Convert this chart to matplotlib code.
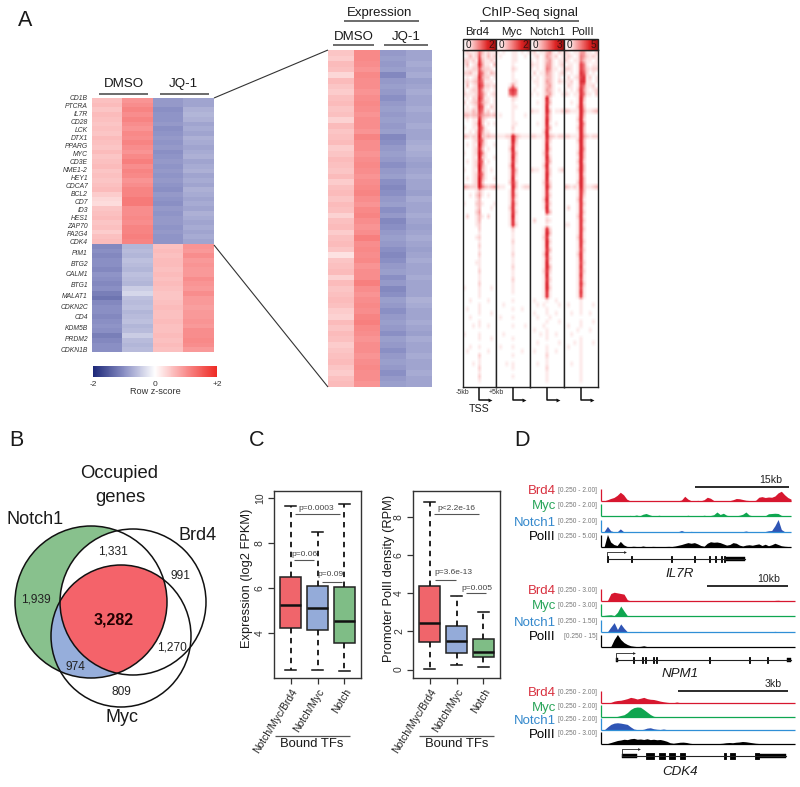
import numpy as np
import matplotlib
matplotlib.use("Agg")
import matplotlib.pyplot as plt
from matplotlib.colors import LinearSegmentedColormap
from matplotlib.patches import Ellipse, PathPatch
from matplotlib.path import Path
from matplotlib.cm import ScalarMappable
from matplotlib.colors import Normalize

plt.rcParams['font.family'] = ['Liberation Sans', 'DejaVu Sans']

W, H = 800, 787

# ---------- panel A data (z-score x20, estimated) ----------
genes_up = ['CD1B','PTCRA','IL7R','CD28','LCK','DTX1','PPARG','MYC','CD3E','NME1-2','HEY1','CDCA7','BCL2','CD7','ID3','HES1','ZAP70','PA2G4','CDK4']
genes_down = ['PIM1','BTG2','CALM1','BTG1','MALAT1','CDKN2C','CD4','KDM5B','PRDM2','CDKN1B']

main_c1 = [11,12,10,12,11,10,11,10,12,11,10,12,10,11,12,10,11,10,11,12,9,7,6,10,11,12,10,11,9,11,12,
           -21,-20,-21,-20,-20,-21,-19,-20,-21,-20,-23,-25,-21,-20,-20,-21,-20,-19,-20,-23,-21,-20,-20]
main_c2 = [19,20,22,20,22,20,19,21,20,22,20,19,21,23,20,22,21,19,20,22,22,24,24,20,20,21,20,22,22,23,22,
           -13,-12,-13,-11,-12,-13,-11,-12,-13,-9,-7,-11,-12,-11,-13,-12,-11,-13,-12,-9,-12,-13,-12]
main_c3 = [-18,-18,-20,-19,-19,-18,-20,-19,-18,-19,-18,-20,-19,-18,-19,-18,-19,-18,-19,-20,-18,-19,-20,-18,-19,-18,-18,-19,-18,-19,-19,
           11,12,11,12,12,11,12,11,12,11,10,10,11,12,11,11,12,11,11,12,11,12,11]
main_c4 = [-16,-16,-14,-13,-14,-16,-15,-16,-14,-15,-16,-15,-14,-16,-15,-14,-16,-15,-16,-14,-15,-16,-15,-16,-14,-15,-16,-15,-16,-15,-16,
           19,18,20,18,19,18,18,20,19,18,20,18,18,17,18,18,19,18,20,20,21,20,18]

zoom_c1 = [10,9,12,11,7,12,10,9,11,12,10,11,8,12,10,11,12,9,10,12,11,10,12,9,11,12,10,12,11,8,
           11,12,9,11,12,10,5,10,11,12,8,12,10,11,12,11,9,8,12,10,12,11,9,10,11,12,10,9,11,12]
zoom_c2 = [21,21,20,19,21,20,20,19,20,21,20,19,20,20,19,22,20,20,19,20,21,20,19,20,21,22,20,19,21,22,
           20,19,20,23,20,21,20,21,19,20,20,23,20,19,20,21,20,22,23,21,20,19,20,20,19,20,21,20,20,19]
zoom_c3 = [-18,-17,-18,-17,-21,-18,-17,-18,-20,-18,-17,-18,-17,-18,-17,-21,-20,-18,-17,-18,-20,-18,-17,-20,-21,-20,-18,-17,-20,-18,
           -21,-20,-18,-17,-18,-20,-21,-20,-18,-17,-20,-18,-21,-20,-17,-18,-20,-18,-17,-18,-20,-17,-18,-20,-18,-17,-18,-20,-18,-17]
zoom_c4 = [-16,-16,-15,-16,-15,-17,-16,-15,-16,-16,-15,-16,-16,-15,-16,-16,-15,-14,-15,-16,-17,-16,-15,-16,-16,-17,-15,-16,-16,-15,
           -16,-17,-16,-15,-16,-17,-16,-15,-16,-16,-15,-16,-16,-16,-14,-15,-16,-16,-15,-16,-17,-15,-16,-16,-15,-16,-16,-15,-16,-16]

heat_cmap = LinearSegmentedColormap.from_list('z', [(0,'#1c2778'),(0.25,'#8a8fc4'),(0.5,'#ffffff'),(0.75,'#f98f8f'),(1,'#ee2a24')])
chip_cmap = LinearSegmentedColormap.from_list('c', ['#ffffff','#f9bcbc','#ec5a60','#d41c28'])
bar_cmap = LinearSegmentedColormap.from_list('b', ['#ffffff','#fbd0d0','#f27a7a','#dd2424','#9a1010'])

chip_titles = ['Brd4','Myc','Notch1','PolII']
chip_max = [2,2,3,5]

chip_brd4 = [
"12112531211","01312621312","22121731121","13012841103","01122632210","22311752132","01012842201","12123751110",
"03012862212","10122741101","21112752012","01022851101","20123742101","01012861021","11132751201","33233643323",
"01011831000","00012930101","10011851000","00102841100","32122932322","00012851000","01011941001","00012830100",
"10012951000","00011931001","01012850100","00012941000","10011931010","00012851000","01012941001","00012930000",
"43222953234","00001310000","00102410100","00001300000","10002310001","00001300010","00002400000","02001310200",
"00001300000","00001200000","00000200000","00000100000","00001200000","00000100000","00000200000","00000100000",
"00000200000","00000100000","00001100000","00000100000","00000200000","00000100000","00000100000","00000200000",
"10000100010","00000100000","00000100000","00100000100","00000100000","01000100000","00000100010","00100000000",
"00000100000","00010100100","00000000000","10000100000","00000100010","00000000000","00100100000","01000000100",
"00000200000","00000100000","00010100000","00000200000","00000100000","00000200000","00000100000","00000000000"]
chip_myc = [
"10100110101","01000110010","00000110000","00000100000","00000210000","00000100000","00000100000","00000110000",
"00001510000","00006860000","00005750000","00000210000","00000100000","00000110000","00000100000","01000100010",
"00000100000","00000110000","00000200000","00000100000","11122942111","00001930000","00001820000","00002910000",
"00001830000","00001920000","00001820000","00002910000","00001830000","00001820000","00001910000","00002830000",
"21100930122","00001810000","00001820000","00001710000","00001820000","00002810000","00001820000","00001910000",
"00001810000","00001820000","00000200000","00000100000","00000100000","00000200000","00000100000","00000100000",
"00000200000","00000100000","00000100000","00000200000","00000100000","00000100000","00000200000","00000100000",
"00000100000","00000100000","00000000000","00000100000","00100000000","00000100100","00000000000","01000100000",
"00000000000","00000100010","00000000000","00100000000","00000100000","00000000000","01000100000","00000000100",
"00000100000","00000000000","00010100000","00000100000","00000000000","00000100000","00000000000","00000000000"]
chip_notch = [
"12011341021","01201431201","10101341011","21101441012","10101541101","02011431012","10101331010","01101431021",
"00101341000","01001431010","10101341001","00001920000","00101830000","00001910000","21101930112","00001820000",
"00001920000","00101910100","00001830000","00002910000","22111932122","00001820000","00001910000","00001920000",
"00002810000","00001920000","00001830000","00002910000","21101820012","00001920000","00001910000","00002820000",
"00001930000","00001810000","00001820000","00002910000","00001820000","00001910000","00000830000","00000100000",
"02000210000","00000100000","00001820000","00001930000","00002810000","00001920000","00001910000","00001830000",
"00002910000","00001820000","00001910000","00001930000","00002820000","00001910000","00001820000","00001910000",
"00001920000","00001810000","00001810000","01000100100","00101000010","00000100000","01000100100","00100010000",
"00000100010","00001000000","01000100000","00010100100","00000100000","00100000010","00000100000","01000100100",
"00000200000","00000100000","00100100000","00000200000","00000100000","00000100000","00000100000","00000000000"]
chip_pol = [
"21011441102","12101542121","21011531101","01101751011","22101752122","10101862010","02012781201","11201881101",
"02101751120","10102841012","21011851102","00001930000","00101920000","00002930000","32111941123","00001930000",
"00002920000","00001940000","00002930000","00001930000","22111942122","00002930000","00001930000","00001940000",
"00002930000","00001930000","00002920000","00001930000","00002930000","00001920000","00001930000","00002930000",
"32121931123","00001830000","00001820000","00002810000","00001820000","02001810000","00001820000","00002810000",
"00001820000","11001810000","00001820000","00001810000","00002810000","00001820000","00001810000","00001720000",
"00002810000","00001810000","00001720000","00001810000","00001720000","00001810000","00001710000","00001820000",
"00001710000","00001810000","00001710000","00000100000","01000100010","00000100000","00100100100","00000000000",
"00000100010","01000100000","00001000100","00100000000","00000100000","00010100010","01000100000","00000100000",
"00000100000","00000100000","00100100000","00000100000","00000100000","00000100000","00000100000","00000000000"]
chip_all = [chip_brd4, chip_myc, chip_notch, chip_pol]

# ---------- panel B data ----------
venn_labels = ['1,331','991','1,939','3,282','1,270','974','809']

# ---------- panel C data: q1, median, q3, whisker low, whisker high ----------
box_names = ['Notch/Myc/Brd4','Notch/Myc','Notch']
box_colors = ['#f0656b','#94abd9','#7fbd86']
expr_stats = [(4.24,5.27,6.52,2.34,9.68),(4.16,5.11,6.10,2.37,8.50),(3.56,4.56,6.04,2.31,9.76)]
pol_stats = [(1.45,2.46,4.38,0.02,8.75),(0.86,1.50,2.29,0.24,3.86),(0.65,0.93,1.62,0.14,2.99)]

# ---------- panel D data (track signal, fraction of track height) ----------
track_names = ['Brd4','Myc','Notch1','PolII']
track_text = ['#d8303f','#2aa55a','#3388cc','#000000']
track_fill = ['#d7172f','#0fa650','#2f55b5','#000000']
track_base = ['#d7172f','#0fa650','#2f8fd6','#000000']

il7r_tracks = [
 [0,.02,.1,.2,.28,.45,.7,.5,.15,.02,.01,.03,.01,0,.01,.02,.01,0,.01,.01,.02,0,.01,.01,.02,.08,.38,.15,.02,.01,.05,.02,.1,.3,.22,.04,.02,.01,.02,.04,.03,.1,.2,.18,.12,.06,.04,.03,.05,.3,.35,.28,.32,.3,.4,.65,.78,.5,.28,.15],
 [0,0,.01,0,.02,.01,.02,.01,0,.05,.02,.08,.01,.14,.2,.1,.02,.01,.06,.01,.02,.01,.01,0,.04,.02,.01,.06,.01,.02,.04,.01,.06,.02,.04,.1,.32,.12,.22,.06,.02,.01,.02,.06,.14,.32,.08,.02,.01,.02,.04,.02,.18,.2,.22,.2,.05,.02,.01,.01],
 [0,.05,.45,.1,.02,.01,.25,.03,.01,0,0,.01,0,.01,0,.01,0,0,.01,0,.01,0,.01,0,.03,.12,.02,.01,.05,.02,.02,.01,.04,.01,.02,.01,.03,.01,.02,.01,.02,.03,.01,.02,.03,.08,.02,.01,.02,.02,.01,.04,.1,.12,.5,1.0,.2,.03,.02,.01],
 [0,.05,1.0,.4,.2,.12,.45,.18,.05,.03,.06,.04,.02,.08,.03,.02,.05,.04,.02,.03,.04,.05,.04,.08,.14,.2,.28,.35,.3,.35,.25,.12,.06,.3,.42,.38,.4,.35,.25,.15,.2,.35,.3,.15,.08,.15,.18,.14,.2,.25,.12,.22,.1,.18,.3,.2,.1,.06,.04,.02]]
npm1_tracks = [
 [0,.01,.05,.6,.7,.65,.6,.55,.1,.01,0,.01,0,.01,.02,0,.01,0,0,.02,.01,.01,0,0,.03,.02,0,.01,0,.01,.02,.01,0,0,.01,0,0,.01,0,0,.01,0,.01,0,0,.01,0,0,.01,0,.01,.01,0,.05,.06,.01,0,.01,0,0],
 [0,.05,.08,.1,.03,.3,.8,.4,.03,.01,0,0,.01,0,0,0,0,.01,0,0,0,0,.01,0,0,0,0,0,0,.01,0,0,0,0,0,.01,0,0,0,0,0,0,0,0,0,0,0,0,0,0,0,.01,0,0,0,0,0,0,0,0],
 [0,0,.03,.4,.75,.2,.65,.3,.02,0,.01,0,.05,.01,0,0,0,.01,0,0,0,0,0,0,.01,0,0,0,0,0,0,.01,0,0,0,0,0,0,.01,0,0,0,0,0,0,0,0,.01,0,0,0,0,.03,.05,.01,0,0,0,0,0],
 [0,0,.02,.05,.6,1.0,.6,.35,.2,.1,.06,.03,.05,.1,.03,.02,.02,.01,.01,.02,.01,.01,.01,0,.01,.01,0,.01,.01,0,.01,0,.01,0,.01,.01,0,0,.01,0,.01,0,0,.01,0,.01,0,0,0,.01,0,.01,0,.01,0,0,.01,0,.01,0]]
cdk4_tracks = [
 [0,.01,.02,.05,.15,.2,.22,.28,.35,.45,.4,.32,.38,.45,.35,.3,.28,.22,.15,.1,.06,.03,.02,.08,.03,.01,.01,0,.01,0,.01,0,.01,0,0,.01,0,0,.01,0,0,.01,0,0,.01,0,0,.01,0,0,.01,0,0,.01,0,0,.01,0,0,.01],
 [0,0,.01,0,.01,.05,.12,.18,.35,.6,.75,.8,.78,.6,.4,.2,.06,.02,.01,0,.01,0,0,.01,0,0,0,.01,0,0,0,.01,0,0,0,0,.01,0,0,0,0,0,.01,0,0,0,0,0,0,.01,0,0,0,0,0,0,.01,0,0,0],
 [0,.02,.25,.45,.55,.58,.55,.5,.45,.25,.08,.03,.02,.06,.15,.18,.1,.06,.04,.08,.03,.02,.01,.01,.02,.01,.01,.01,0,.01,0,0,.01,0,0,.01,0,0,.01,0,0,.01,0,0,.01,0,0,.01,0,0,.01,0,0,.01,0,0,.01,0,0,0],
 [0,.02,.04,.12,.2,.28,.32,.38,.35,.42,.45,.38,.4,.36,.42,.35,.38,.34,.36,.3,.22,.1,.06,.1,.14,.15,.12,.06,.03,.02,.02,.03,.02,.02,.03,.02,.04,.06,.1,.12,.1,.14,.16,.2,.18,.14,.1,.06,.04,.03,.02,.04,.03,.02,.03,.02,.01,.02,.01,.01]]

ranges = [['[0.250 - 2.00]','[0.250 - 2.00]','[0.250 - 2.00]','[0.250 - 5.00]'],
          ['[0.250 - 3.00]','[0.250 - 3.00]','[0.250 - 1.50]','[0.250 - 15]'],
          ['[0.250 - 2.00]','[0.250 - 2.00]','[0.250 - 2.00]','[0.250 - 3.00]']]

# gene models, % of the track width
il7r_span = (3, 76);  il7r_exons = [(3,3.6),(15.6,16.1),(36.7,37.2),(48.8,49.3),(56.8,57.3),(59.8,60.3),(63,63.5),(64.8,65.3)]; il7r_thick = [(66,76)]
npm1_span = (7.8, 97.8); npm1_exons = [(16.5,17),(21.2,21.7),(22.9,23.4),(26.8,27.3),(28.6,29.1),(55.7,56.2),(76.2,76.7),(85.5,86)]; npm1_thick = [(7.8,8.8),(96,97.8)]
cdk4_span = (10.7, 95.2); cdk4_exons = [(23,27.4),(30,32.8),(35,38.3),(40.7,43.1),(63.4,64.5),(66.7,69.3),(79.3,81.4)]; cdk4_thick = [(10.7,18.8),(81.4,95.2)]

# ---------- helpers ----------
fig = plt.figure(figsize=(W/100, H/100), dpi=100, facecolor='white')

def px_axes(x0, y0, x1, y1, **kw):
    return fig.add_axes([x0/W, 1-y1/H, (x1-x0)/W, (y1-y0)/H], **kw)

ov = px_axes(0, 0, W, H)
ov.set_xlim(0, W); ov.set_ylim(H, 0); ov.axis('off'); ov.patch.set_alpha(0); ov.set_zorder(10)

def T(x, y, s, size, ha='center', va='center', **kw):
    kw.setdefault('color', '#1a1a1a')
    ov.text(x, y, s, fontsize=size, ha=ha, va=va, **kw)

def L(xs, ys, color='#444444', lw=1.0, **kw):
    ov.plot(xs, ys, color=color, lw=lw, solid_capstyle='butt', **kw)

for s, x, y in [('A', 25, 20), ('B', 16, 440), ('C', 257, 440), ('D', 522, 440)]:
    T(x, y, s, 15.5)

# ---------- panel A: heatmaps ----------
main = np.array([main_c1, main_c2, main_c3, main_c4]).T / 20
axm = px_axes(92, 98, 214, 352)
axm.imshow(main, cmap=heat_cmap, vmin=-2, vmax=2, aspect='auto', interpolation='nearest')
axm.axis('off')
zm = np.array([zoom_c1, zoom_c2, zoom_c3, zoom_c4]).T / 20
axz = px_axes(328, 50, 432, 387)
axz.imshow(zm, cmap=heat_cmap, vmin=-2, vmax=2, aspect='auto', interpolation='nearest')
axz.axis('off')

up_y = np.linspace(98.5, 243, len(genes_up))
for g, y in zip(genes_up, up_y):
    T(88, y, g, 4.9, ha='right', style='italic', color='#333333')
dn_y = np.linspace(253.5, 350, len(genes_down))
for g, y in zip(genes_down, dn_y):
    T(88, y, g, 4.9, ha='right', style='italic', color='#333333')

T(124, 84, 'DMSO', 9.6); L([99, 148], [94, 94], lw=1.1)
T(183, 84, 'JQ-1', 9.6); L([160, 209], [94, 94], lw=1.1)
L([214, 328], [98, 50], color='#333333', lw=0.8)
L([214, 328], [245, 387], color='#333333', lw=0.8)

cax = px_axes(93, 366, 217, 377)
cb = fig.colorbar(ScalarMappable(Normalize(-2, 2), heat_cmap), cax=cax, orientation='horizontal')
cb.outline.set_visible(False); cb.set_ticks([])
T(93, 384, '-2', 6, color='#333333'); T(155, 384, '0', 6, color='#333333'); T(217, 384, '+2', 6, color='#333333')
T(155, 391, 'Row z-score', 6.6, color='#333333')

T(380, 13, 'Expression', 9.5); L([344, 419], [21, 21], lw=1.1)
T(354, 37, 'DMSO', 9.5); L([333, 374], [45, 45], lw=1.1)
T(406, 37, 'JQ-1', 9.5); L([384, 428], [45, 45], lw=1.1)
T(530, 13, 'ChIP-Seq signal', 9.5); L([480, 579], [21, 21], lw=1.1)

# ---------- panel A: ChIP ----------
edges = [463, 496, 530, 564, 598]
title_x = [477, 512, 547, 582]
for i, rows in enumerate(chip_all):
    mat = np.array([[int(c) for c in r] for r in rows]) / 9
    a = px_axes(edges[i], 50, edges[i+1], 387)
    a.imshow(mat, cmap=chip_cmap, vmin=0, vmax=1, aspect='auto', interpolation='bilinear')
    a.set_xticks([]); a.set_yticks([])
    for sp in a.spines.values():
        sp.set_linewidth(1.0); sp.set_color('#222222')
    c = px_axes(edges[i], 39, edges[i+1], 50)
    cbi = fig.colorbar(ScalarMappable(Normalize(0, chip_max[i]), bar_cmap), cax=c, orientation='horizontal')
    cbi.set_ticks([]); cbi.outline.set_linewidth(1.0); cbi.outline.set_edgecolor('#222222')
    T(edges[i]+5, 45, '0', 7.2, color='#222222')
    T(edges[i+1]-5, 45, str(chip_max[i]), 7.2, color='#401010')
    T(title_x[i], 32, chip_titles[i], 8.2)
    cx = (edges[i]+edges[i+1])/2 - 0.5
    L([cx, cx, cx+10], [387, 400, 400], color='#111111', lw=1.1)
    ov.plot([cx+11], [400], marker='>', ms=2.8, color='#111111', mew=0)
T(462, 392, '-5kb', 5, color='#333333'); T(496, 392, '+5kb', 5, color='#333333')
T(479, 409, 'TSS', 7.6)

# ---------- panel B: Venn ----------
nc, nw, nh = (91, 602), 152, 152
bc, bw, bh = (133, 602), 146, 146
mc, mw, mh = (121, 636), 140, 142
GREEN, BLUE, RED = '#88c18d', '#96aedb', '#f4636a'

def shape(c, w, h, fc='none', ec='none', lw=0, z=1):
    p = Ellipse(c, w, h, facecolor=fc, edgecolor=ec, lw=lw, zorder=z)
    ov.add_patch(p)
    return p

notch_clip = Ellipse(nc, nw, nh, transform=ov.transData)
brd_clip = Ellipse(bc, bw, bh, transform=ov.transData)
shape(nc, nw, nh, fc=GREEN, z=1)
shape(mc, mw, mh, fc=BLUE, z=1.1).set_clip_path(notch_clip)
shape(bc, bw, bh, fc='white', z=1.2).set_clip_path(notch_clip)
shape(mc, mw, mh, fc=RED, z=1.3).set_clip_path(brd_clip)
# everything outside the Notch1 ring stays white
t = np.linspace(0, 2*np.pi, 181)
ring = np.c_[nc[0]+nw/2*np.cos(t), nc[1]+nh/2*np.sin(t)][::-1]
box = np.array([[5, 505], [235, 505], [235, 735], [5, 735], [5, 505]])
verts = np.vstack([box, ring])
codes = [Path.MOVETO]+[Path.LINETO]*3+[Path.CLOSEPOLY]+[Path.MOVETO]+[Path.LINETO]*(len(ring)-1)
ov.add_patch(PathPatch(Path(verts, codes), facecolor='white', edgecolor='none', zorder=1.4))
for c, w, h in [(nc, nw, nh), (bc, bw, bh), (mc, mw, mh)]:
    shape(c, w, h, ec='#111111', lw=1.1, z=1.5)

T(119, 473, 'Occupied', 13.3, zorder=3); T(120, 497, 'genes', 13.3, zorder=3)
T(35, 520, 'Notch1', 13, zorder=3); T(198, 536, 'Brd4', 13, zorder=3); T(122, 718, 'Myc', 13, zorder=3)
for s, (x, y) in zip(venn_labels, [(113, 551), (180, 576), (36, 599), (114, 620), (172, 647), (75, 667), (121, 692)]):
    if s == '3,282':
        T(x, y, s, 11.5, fontweight='bold', color='#200000', zorder=3)
    else:
        T(x, y, s, 8.6, color='#222222', zorder=3)

# ---------- panel C ----------
def boxes(rect, stats, ylim, yticks, ylabel, ylab_x):
    a = px_axes(*rect)
    st = [dict(q1=s[0], med=s[1], q3=s[2], whislo=s[3], whishi=s[4], fliers=[]) for s in stats]
    art = a.bxp(st, positions=[1, 2, 3], widths=0.8, patch_artist=True, showfliers=False,
                medianprops=dict(color='#111111', lw=1.8),
                boxprops=dict(edgecolor='#222222', lw=1.1),
                whiskerprops=dict(color='#111111', lw=1.3, ls=(0, (3, 2.5))),
                capprops=dict(color='#111111', lw=1.1), capwidths=0.4)
    for b, col in zip(art['boxes'], box_colors):
        b.set_facecolor(col)
    a.set_xlim(0.375, 3.625); a.set_ylim(*ylim)
    a.set_yticks(yticks); a.set_xticks([1, 2, 3])
    a.set_yticklabels([str(v) for v in yticks], rotation=90, va='center', fontsize=7.5, color='#333333')
    a.set_xticklabels(box_names, rotation=58, ha='right', rotation_mode='anchor', fontsize=7.5, color='#222222')
    a.tick_params(length=4, width=0.9, color='#333333', pad=2.5)
    for sp in a.spines.values():
        sp.set_linewidth(1.0); sp.set_color('#333333')
    T(ylab_x, 578, ylabel, 9.3, rotation=90)
    return a

boxes((274, 491, 361, 678), expr_stats, (2.0, 10.33), [4, 6, 8, 10], 'Expression (log2 FPKM)', 247)
boxes((413, 491, 500, 678), pol_stats, (-0.44, 9.34), [0, 2, 4, 6, 8], 'Promoter PolII density (RPM)', 389)

for s, tx, ty, x0, x1, ly in [('p=0.0003', 316, 508, 295, 340, 514), ('p=0.06', 304, 555, 294, 314, 560),
                               ('p=0.09', 330, 574, 322, 342, 582), ('p<2.2e-16', 456, 509, 434, 479, 514),
                               ('p=3.6e-13', 453, 572, 435, 456, 580), ('p=0.005', 477, 588, 466, 486, 593)]:
    T(tx, ty, s, 6, color='#444444')
    L([x0, x1], [ly, ly], color='#555555', lw=0.8)
T(312, 744, 'Bound TFs', 9.4); L([275, 350], [736, 736], color='#555555', lw=0.9)
T(457, 744, 'Bound TFs', 9.4); L([419, 494], [736, 736], color='#555555', lw=0.9)

# ---------- panel D ----------
def locus(tracks, rng, baselines, x1, span, exons, thick, name, gene_y, name_y, scale, scale_y, label, label_x, arrow_len, lab_xs):
    xs_l = 601
    for i, vals in enumerate(tracks):
        a = px_axes(xs_l, baselines[i]-12.5, x1, baselines[i])
        x = np.linspace(0, 1, len(vals))
        a.fill_between(x, 0, vals, color=track_fill[i], lw=0)
        a.set_xlim(0, 1); a.set_ylim(0, 1); a.axis('off')
        L([xs_l, x1], [baselines[i], baselines[i]], color=track_base[i], lw=0.9)
        L([xs_l, xs_l], [baselines[i]-12, baselines[i]], color=track_base[i], lw=0.9)
        T(556, baselines[i]-9.5, track_names[i], 9.5, ha='right', color=track_text[i])
        T(lab_xs[i], baselines[i]-10.5, rng[i], 4.8, ha='left', color='#777777')
    g = px_axes(xs_l, gene_y-4, x1, gene_y+4)
    g.set_xlim(0, 100); g.set_ylim(-1, 1); g.axis('off')
    g.plot(span, [0, 0], color='#222222', lw=0.8)
    for e0, e1 in exons:
        g.fill_between([e0, e1], -0.8, 0.8, color='black', lw=0.6)
    for e0, e1 in thick:
        g.fill_between([e0, e1], -0.6, 0.6, color='black', lw=0.3)
    ax0 = xs_l + (x1-xs_l)*span[0]/100
    L([ax0, ax0, ax0+arrow_len], [gene_y, gene_y-7, gene_y-7], color='#222222', lw=0.6)
    ov.plot([ax0+arrow_len], [gene_y-7], marker='>', ms=2, color='#222222', mew=0)
    T(680, name_y, name, 9.6, style='italic')
    L(scale, [scale_y, scale_y], color='#1a1a1a', lw=1.3)
    T(label_x, scale_y-7, label, 7.6, ha='right', color='#222222')

locus(il7r_tracks, ranges[0], [501, 516, 532, 547], 791, il7r_span, il7r_exons, il7r_thick, 'IL7R', 559, 574,
      [695, 789], 487, '15kb', 782, 18, [558, 558, 558, 558])
locus(npm1_tracks, ranges[1], [601, 616, 632, 647], 795, npm1_span, npm1_exons, npm1_thick, 'NPM1', 660, 674,
      [707, 788], 586, '10kb', 780, 18, [558, 558, 558, 564])
locus(cdk4_tracks, ranges[2], [703, 717, 730, 744], 795, cdk4_span, cdk4_exons, cdk4_thick, 'CDK4', 756, 772,
      [678, 788], 691, '3kb', 782, 17, [558, 558, 558, 558])

fig.savefig('out.png', dpi=100, facecolor='white')
